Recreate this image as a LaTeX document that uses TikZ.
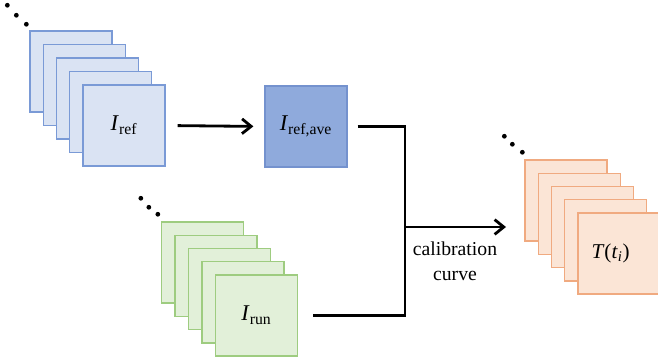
\documentclass[tikz,border=0pt]{standalone}
\usepackage{fontspec}
\setmainfont{Liberation Serif}
\usepackage{xcolor}
\usetikzlibrary{arrows.meta}
\definecolor{refFill}{RGB}{218, 227, 243}
\definecolor{refDraw}{RGB}{122, 154, 214}
\definecolor{aveFill}{RGB}{143, 170, 220}
\definecolor{aveDraw}{RGB}{116, 146, 206}
\definecolor{runFill}{RGB}{226, 240, 217}
\definecolor{runDraw}{RGB}{158, 204, 128}
\definecolor{tFill}{RGB}{251, 229, 214}
\definecolor{tDraw}{RGB}{240, 170, 128}
\newcommand{\symsub}[2]{\textit{#1}\textsubscript{#2}}

\begin{document}
\begin{tikzpicture}[x=0.025cm, y=-0.025cm]
            \tikzstyle{frame} = [minimum width=2.05cm, minimum height=2.03cm, inner sep=0pt, line width=0.9pt, font=\fontsize{16}{19}\selectfont]
            \tikzstyle{refframe} = [frame, draw=refDraw, fill=refFill]
            \tikzstyle{aveframe} = [frame, draw=aveDraw, fill=aveFill]
            \tikzstyle{runframe} = [frame, draw=runDraw, fill=runFill]
            \tikzstyle{tframe} = [frame, draw=tDraw, fill=tFill, font=\fontsize{15}{18}\selectfont]
            \tikzstyle{line} = [line width=2pt, black]
            \tikzstyle{arrow} = [line, -{Straight Barb[length=6.5pt, width=10.5pt]}]
            \tikzstyle{dot} = [circle, fill=black, inner sep=0pt, minimum size=3.4pt]
            \clip (0,0) rectangle (658,362);

            % reference images
            \node[refframe] (ref0) at (71,71.5) {};
            \node[refframe] (ref1) at (84.3,85) {};
            \node[refframe] (ref2) at (97.5,98.5) {};
            \node[refframe] (ref3) at (110.8,112) {};
            \node[refframe] (ref4) at (124,125.5) {\symsub{I}{ref}};
            \node[dot] at ([shift={(-22,-25)}]ref0.north west) {};
            \node[dot] at ([shift={(-13,-15)}]ref0.north west) {};
            \node[dot] at ([shift={(-3,-6)}]ref0.north west) {};

            % averaged reference
            \node[aveframe] (ave) at (306,126.5) {\symsub{I}{ref,ave}};

            % run images
            \node[runframe] (run0) at (202.5,262.5) {};
            \node[runframe] (run1) at (216,275.8) {};
            \node[runframe] (run2) at (229.5,289) {};
            \node[runframe] (run3) at (243,302.3) {};
            \node[runframe] (run4) at (256.5,315.5) {\symsub{I}{run}};
            \node[dot] at ([shift={(-20,-23)}]run0.north west) {};
            \node[dot] at ([shift={(-12,-14)}]run0.north west) {};
            \node[dot] at ([shift={(-3,-7)}]run0.north west) {};

            % temperature maps
            \node[tframe] (t0) at (566,200.5) {};
            \node[tframe] (t1) at (579.3,213.8) {};
            \node[tframe] (t2) at (592.5,227) {};
            \node[tframe] (t3) at (605.8,240.3) {};
            \node[tframe] (t4) at (619,253.5) {\hspace*{-12pt}\textit{T}(\textit{t}\textsubscript{\textit{i}})};
            \node[dot] at ([shift={(-20,-23)}]t0.north west) {};
            \node[dot] at ([shift={(-12,-15)}]t0.north west) {};
            \node[dot] at ([shift={(-2,-7)}]t0.north west) {};

            \coordinate (jbot) at (405,315.5);
            \coordinate (jmid) at (405,227);
            \coordinate (calend) at (506,227);

            \draw[arrow, shorten <=8.5pt, shorten >=7.8pt] (ref4.east) -- (ave.west);
            \draw[line, shorten <=7.1pt, shorten >=10.7pt] (ave.east) -| (jbot) -- (run4.east);
            \draw[arrow] (jmid) -- (calend);
            \node[align=center, font=\fontsize{14}{17.5}\selectfont] (calib) at (455,261) {calibration\\curve};
        \end{tikzpicture}
\end{document}
